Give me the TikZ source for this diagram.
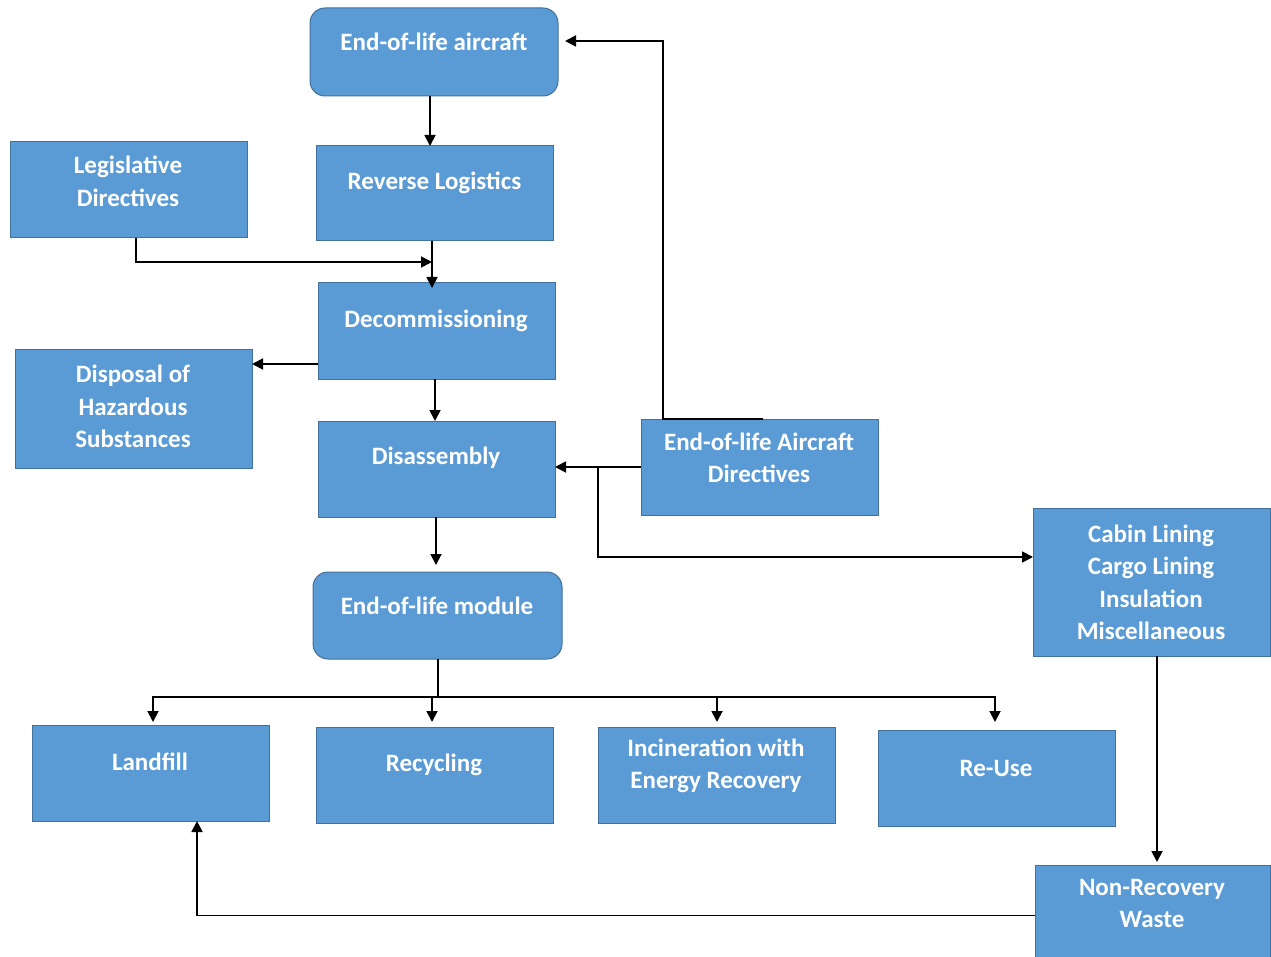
\documentclass[tikz,border=0pt]{standalone}
\usepackage{fontspec}
\setmainfont{Carlito}[BoldFont={Carlito Bold}]
\usetikzlibrary{arrows.meta,calc}
\definecolor{boxfill}{HTML}{5B9BD5}
\definecolor{boxline}{HTML}{41719C}
\tikzset{
  box/.style={draw=boxline,fill=boxfill,line width=1pt,inner sep=0pt,outer sep=0pt},
  rbox/.style={box,rounded corners=15pt},
  txt/.style={text=white,font=\fontsize{25}{32.5}\selectfont\bfseries,align=center,inner sep=0pt},
  arr/.style={line width=1.8pt,-{Triangle[length=11pt,width=11pt]}},
  ln/.style={line width=1.8pt}
}
\newcommand{\mkbox}[6]{%
  \node[#1,minimum width={#4-#2},minimum height={#5-#3}] (#6) at ({(#2+#4)/2},{(#3+#5)/2}) {};}
\begin{document}
\begin{tikzpicture}[x=1pt,y=-1pt]
\useasboundingbox (0,0) rectangle (1271,957);
\fill[white] (0,0) rectangle (1271,957);
% boxes
\mkbox{rbox}{310}{8}{558}{96}{eola}
\mkbox{box}{316}{146}{553}{241}{rl}
\mkbox{box}{10}{142}{247}{238}{leg}
\mkbox{box}{318}{283}{555}{379}{dec}
\mkbox{box}{15}{350}{252}{468}{disp}
\mkbox{box}{318}{421}{555}{517}{dis}
\mkbox{box}{641}{419}{878}{515}{ead}
\mkbox{box}{1033}{508}{1270}{656}{cab}
\mkbox{rbox}{313}{572}{562}{659}{mod}
\mkbox{box}{32}{725}{269}{821}{lf}
\mkbox{box}{316}{727}{553}{823}{rec}
\mkbox{box}{598}{727}{835}{823}{inc}
\mkbox{box}{878}{730}{1115}{826}{reu}
\mkbox{box}{1035}{865}{1270}{962}{nrw}
% texts
\node[txt] (t1) at (434,42) {End-of-life aircraft};
\node[txt] (t2) at (434.5,183) {Reverse Logistics};
\node[txt] (t3) at (128,181.5) {Legislative\\Directives};
\node[txt] (t4) at (436,321) {Decommissioning};
\node[txt] (t5) at (133,406.5) {Disposal of\\Hazardous\\Substances};
\node[txt] (t6) at (436,458) {Disassembly};
\node[txt] (t7) at (759,458) {End-of-life Aircraft\\Directives};
\node[txt] (t8) at (1151,582.5) {Cabin Lining\\Cargo Lining\\Insulation\\Miscellaneous};
\node[txt] (t9) at (437,606) {End-of-life module};
\node[txt] (t10) at (150,762) {Landfill};
\node[txt] (t11) at (434,765) {Recycling};
\node[txt] (t12) at (716,766) {Incineration with\\Energy Recovery};
\node[txt] (t13) at (996,768) {Re-Use};
\node[txt] (t14) at (1152,903.5) {Non-Recovery\\Waste};
% connector points
\coordinate (lj) at (432,262);
\coordinate (br) at (598,468);
\coordinate (hub) at (438,697);
% connectors
\draw[arr] ([xshift=-4]eola.south) -- ([xshift=-4.5]rl.north);
\draw[arr] ([xshift=-2.5]rl.south) -- ([shift={(-4.5,5)}]dec.north);
\draw[arr] ([xshift=7.5]leg.south) |- (lj);
\draw[arr] ([shift={(0,33)}]dec.west) -- ([shift={(0,33)}]dec.west -| disp.east);
\draw[arr] ([xshift=-1.5]dec.south) -- ([xshift=-1.5]dis.north);
\draw[arr] (ead.west) -- (ead.west -| dis.east);
\draw[arr] (br) |- ([shift={(0,-25)}]cab.west);
\draw[arr] ([xshift=3.5]ead.north) -- ([xshift=-96.5]ead.north) |- ([shift={(7,-11)}]eola.east);
\draw[arr] ([xshift=-0.5]dis.south) -- ([shift={(-1.5,-7)}]mod.north);
\draw[ln] ([xshift=0.5]mod.south) -- (hub);
\draw[arr] (hub) -| ([shift={(2.5,-3)}]lf.north);
\draw[arr] (hub) -| ([shift={(-2.5,-5)}]rec.north);
\draw[arr] (hub) -| ([shift={(0.5,-5)}]inc.north);
\draw[arr] (hub) -| ([shift={(-1.5,-8)}]reu.north);
\draw[arr] ([xshift=5.5]cab.south) -- ([shift={(4.5,-3)}]nrw.north);
\draw[arr] ([shift={(0,2)}]nrw.west) -| ([xshift=46.5]lf.south);
\end{tikzpicture}
\end{document}
